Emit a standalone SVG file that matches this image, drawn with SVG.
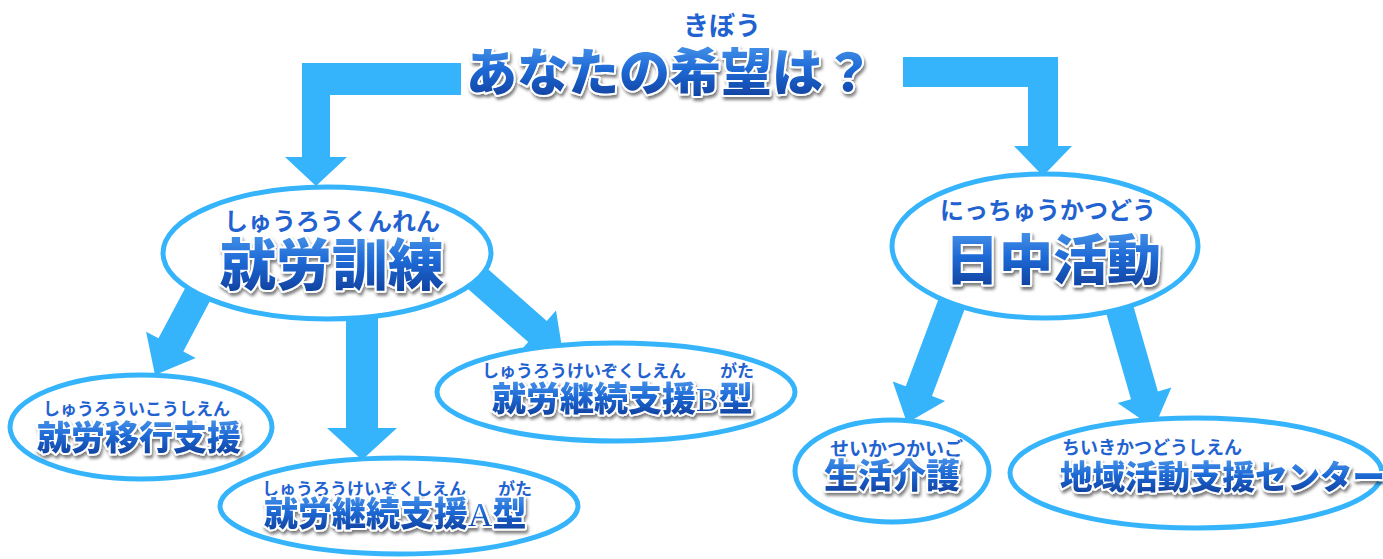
<svg xmlns="http://www.w3.org/2000/svg" width="1383" height="559" viewBox="0 0 1383 559">
<defs>
<linearGradient id="g" x1="0" y1="0" x2="0" y2="1">
<stop offset="0" stop-color="#5aa8f2"/>
<stop offset="0.5" stop-color="#1f6ad6"/>
<stop offset="1" stop-color="#0a3690"/>
</linearGradient>
<filter id="sh" x="-10%" y="-30%" width="120%" height="170%">
<feDropShadow dx="1.5" dy="3" stdDeviation="1.6" flood-color="#000" flood-opacity="0.5"/>
</filter>
</defs>
<style>
.c{fill:#35b4fc}
.n{fill:#fff;stroke:#35b4fc;stroke-width:5}
.t{font-family:"Noto Sans CJK JP",sans-serif;font-weight:900;fill:url(#g);stroke:#fff;stroke-width:4;stroke-linejoin:round;paint-order:stroke;filter:url(#sh)}
.r{font-family:"Noto Sans CJK JP",sans-serif;font-weight:700;fill:#1f62d0;stroke:#fff;stroke-width:2;stroke-linejoin:round;paint-order:stroke}
.lat{font-family:"Liberation Serif",serif;font-weight:400}
</style>
<g id="connectors">
<path class="c" d="M461,63 H302 V157 H285 L316,186 L347,157 H330 V95 H461 Z"/>
<path class="c" d="M903,57 H1058 V146 H1072 L1043,176 L1014,146 H1028 V87 H903 Z"/>
<polygon class="c" points="187.6,283.4 158.5,338.3 146.1,331.8 155,375 195.7,358 183.3,351.5 212.4,296.6"/>
<path class="c" d="M346,315 H378 V428 H397 L362,460 L327,428 H346 Z"/>
<polygon class="c" points="460.7,282.5 528.2,342 519,352.5 563,354 556,310.5 546.8,321 479.3,261.5"/>
<polygon class="c" points="941.9,290.1 905.8,386.3 892.7,381.4 907,423 945.1,401 932,396.1 968.1,299.9"/>
<polygon class="c" points="1103.5,303.9 1131,399.2 1117.6,403.1 1154,428 1171.4,387.5 1157.9,391.4 1130.5,296.1"/>
</g>
<g id="title">
<text class="r" x="683" y="35" font-size="26">きぼう</text>
<text class="t" x="466" y="91" font-size="51" stroke-width="5">あなたの希望は？</text>
</g>
<g id="shuro-kunren">
<ellipse class="n" cx="327" cy="253" rx="164" ry="66"/>
<text class="r" x="224" y="230" font-size="24">しゅうろうくんれん</text>
<text class="t" x="220" y="285" font-size="56">就労訓練</text>
</g>
<g id="shuro-ikou">
<ellipse class="n" cx="141" cy="427" rx="131" ry="52"/>
<text class="r" x="43" y="415" font-size="17">しゅうろういこうしえん</text>
<text class="t" x="37" y="450" font-size="34">就労移行支援</text>
</g>
<g id="keizoku-a">
<ellipse class="n" cx="399" cy="506" rx="179" ry="48"/>
<text class="r" x="262" y="495" font-size="17">しゅうろうけいぞくしえん</text>
<text class="r" x="498" y="495" font-size="17">がた</text>
<text class="t" x="264" y="526" font-size="34">就労継続支援<tspan class="lat">A</tspan>型</text>
</g>
<g id="keizoku-b">
<ellipse class="n" cx="616" cy="392" rx="179" ry="49"/>
<text class="r" x="482" y="377" font-size="17">しゅうろうけいぞくしえん</text>
<text class="r" x="720" y="377" font-size="17">がた</text>
<text class="t" x="492" y="411" font-size="34">就労継続支援<tspan class="lat">B</tspan>型</text>
</g>
<g id="nicchu-katsudo">
<ellipse class="n" cx="1045" cy="246" rx="153" ry="72"/>
<text class="r" x="940" y="219" font-size="24">にっちゅうかつどう</text>
<text class="t" x="945" y="280" font-size="54">日中活動</text>
</g>
<g id="seikatsu-kaigo">
<ellipse class="n" cx="892" cy="471" rx="97" ry="51"/>
<text class="r" x="830" y="456" font-size="19">せいかつかいご</text>
<text class="t" x="824" y="488" font-size="34">生活介護</text>
</g>
<g id="chiiki-center">
<ellipse class="n" cx="1196" cy="473" rx="186" ry="55"/>
<text class="r" x="1062" y="454" font-size="18">ちいきかつどうしえん</text>
<text class="t" x="1060" y="489" font-size="32.5">地域活動支援センター</text>
</g>
</svg>
